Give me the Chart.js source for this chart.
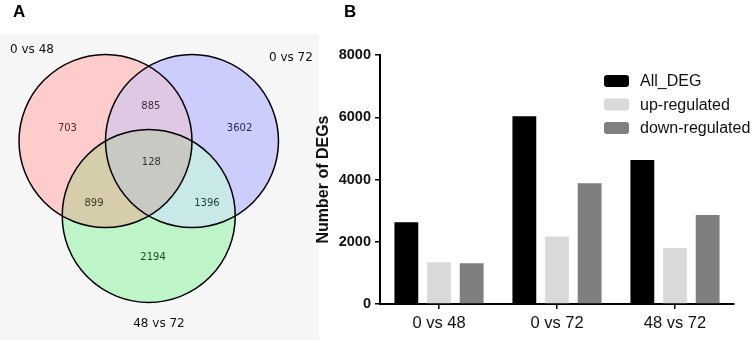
<!DOCTYPE html>
<html>
<head>
<meta charset="utf-8">
<script src="https://cdn.jsdelivr.net/npm/chart.js@4/dist/chart.umd.min.js"></script>
<style>
  html, body { margin: 0; padding: 0; background: #fff; }
  #wrap { position: relative; width: 754px; height: 343px; overflow: hidden; }
  #vennBg { position: absolute; left: 0; top: 34px; width: 319px; height: 306px; background: #f6f6f6; }
  canvas { position: absolute; top: 0; }
  #venn { left: 0; }
  #bars { left: 300px; }
  .panel { position: absolute; top: 2px; font: bold 17px "Liberation Sans", Arial, sans-serif; }
</style>
</head>
<body>
<div id="wrap">
  <div id="vennBg"></div>
  <canvas id="venn" width="320" height="343"></canvas>
  <canvas id="bars" width="454" height="343"></canvas>
  <div class="panel" style="left:13px">A</div>
  <div class="panel" style="left:344px">B</div>
</div>
<script>
// --- panel A: Venn counts ---
const setNames = ['0 vs 48', '0 vs 72', '48 vs 72'];
const regionKeys = ['A', 'B', 'C', 'AB', 'AC', 'BC', 'ABC'];
const regionCounts = [703, 3602, 2194, 885, 899, 1396, 128];

// --- panel B: DEG counts ---
const comparisons = ['0 vs 48', '0 vs 72', '48 vs 72'];
const seriesNames = ['All_DEG', 'up-regulated', 'down-regulated'];
const allDeg = [2630, 6030, 4630];
const upRegulated = [1340, 2170, 1800];
const downRegulated = [1310, 3880, 2860];
const yTicks = [0, 2000, 4000, 6000, 8000];

// classic 3-set layout in circle-radius units
const setCenters = [{ x: -0.5, y: 0 }, { x: 0.5, y: 0 }, { x: 0, y: -Math.sqrt(3) / 2 }];
const setFill = ['#ffcccc', '#cdcdfd', '#bdf5c9'];
const pairFill = { AB: '#dec8e4', AC: '#d6cdab', BC: '#c9e8e8' };
const tripleFill = '#c9c9c3';
const regionAnchor = {
  A: [-0.94, 0.14], B: [1.05, 0.145], C: [0.05, -1.345],
  AB: [0.025, 0.405], AC: [-0.633, -0.72], BC: [0.673, -0.72], ABC: [0.03, -0.25],
};
const regionColor = {
  A: '#5a2626', B: '#26265e', C: '#1f4a2a',
  AB: '#3c3040', AC: '#3b3a22', BC: '#23403f', ABC: '#333333',
};
const setLabelPos = [
  { x: -1.604, y: 1.052, align: 'left' },
  { x: 1.39, y: 0.96, align: 'left' },
  { x: 0.118, y: -2.116, align: 'center' },
];

function radiusPx(chart) {
  const s = chart.scales.x;
  return s.getPixelForValue(1) - s.getPixelForValue(0);
}

const vennOverlay = {
  id: 'vennOverlay',
  afterDatasetsDraw(chart) {
    const { ctx } = chart;
    const circ = [0, 1, 2].map(i => chart.getDatasetMeta(i).data[0]);
    const r = radiusPx(chart);
    const arc = (p) => { ctx.beginPath(); ctx.arc(p.x, p.y, r, 0, Math.PI * 2); };
    const pairs = { AB: [0, 1], AC: [0, 2], BC: [1, 2] };
    Object.entries(pairs).forEach(([k, [i, j]]) => {
      ctx.save();
      arc(circ[i]); ctx.clip();
      arc(circ[j]); ctx.fillStyle = pairFill[k]; ctx.fill();
      ctx.restore();
    });
    ctx.save();
    arc(circ[0]); ctx.clip();
    arc(circ[1]); ctx.clip();
    arc(circ[2]); ctx.fillStyle = tripleFill; ctx.fill();
    ctx.restore();

    ctx.save();
    ctx.lineWidth = 1.5;
    ctx.strokeStyle = '#000';
    circ.forEach(p => { arc(p); ctx.stroke(); });

    const sx = chart.scales.x, sy = chart.scales.y;
    ctx.textBaseline = 'middle';
    ctx.textAlign = 'center';
    ctx.font = '10px "DejaVu Sans"';
    regionKeys.forEach((k, i) => {
      const [ax, ay] = regionAnchor[k];
      ctx.fillStyle = regionColor[k];
      ctx.fillText(String(regionCounts[i]), sx.getPixelForValue(ax), sy.getPixelForValue(ay));
    });
    ctx.font = '12px "DejaVu Sans"';
    ctx.fillStyle = '#111';
    setNames.forEach((name, i) => {
      const p = setLabelPos[i];
      ctx.textAlign = p.align;
      ctx.fillText(name, sx.getPixelForValue(p.x), sy.getPixelForValue(p.y));
    });
    ctx.restore();
  },
};

new Chart(document.getElementById('venn'), {
  type: 'scatter',
  data: {
    datasets: setNames.map((name, i) => ({
      label: name,
      data: [setCenters[i]],
      pointRadius: (c) => radiusPx(c.chart),
      pointBackgroundColor: setFill[i],
      pointBorderWidth: 0,
      pointHoverRadius: (c) => radiusPx(c.chart),
    })),
  },
  options: {
    responsive: false,
    animation: false,
    events: [],
    layout: { padding: 0 },
    plugins: { legend: { display: false }, tooltip: { enabled: false } },
    scales: {
      x: { type: 'linear', display: false, min: -1.7197, max: 1.9798 },
      y: { type: 'linear', display: false, min: -2.335, max: 1.630 },
    },
  },
  plugins: [vennOverlay],
});

// --- panel B ---
const barColors = ['#000000', '#d9d9d9', '#7f7f7f'];

const boxLegend = {
  id: 'boxLegend',
  afterDraw(chart, args, opts) {
    const { ctx } = chart;
    ctx.save();
    ctx.font = '16px "Liberation Sans", Arial, sans-serif';
    ctx.textBaseline = 'middle';
    ctx.textAlign = 'left';
    chart.data.datasets.forEach((ds, i) => {
      const cy = opts.y + i * opts.rowGap;
      ctx.fillStyle = ds.backgroundColor;
      ctx.beginPath();
      ctx.roundRect(opts.x, cy - opts.boxH / 2, opts.boxW, opts.boxH, 3);
      ctx.fill();
      ctx.fillStyle = '#111';
      ctx.fillText(ds.label, opts.x + opts.boxW + 11, cy + 1);
    });
    ctx.restore();
  },
};

const axisFont = { family: '"Liberation Sans", Arial, sans-serif' };

new Chart(document.getElementById('bars'), {
  type: 'bar',
  data: {
    labels: comparisons,
    datasets: [allDeg, upRegulated, downRegulated].map((vals, i) => ({
      label: seriesNames[i],
      data: vals,
      backgroundColor: barColors[i],
      borderWidth: 0,
      categoryPercentage: 0.83,
      barPercentage: 0.73,
    })),
  },
  options: {
    responsive: false,
    animation: false,
    events: [],
    layout: { padding: { top: 55, right: 20, left: 0, bottom: 0 } },
    plugins: {
      legend: { display: false },
      tooltip: { enabled: false },
      boxLegend: { x: 304, y: 81, rowGap: 23.5, boxW: 25, boxH: 12 },
    },
    scales: {
      x: {
        afterFit: (s) => { s.height = 39; },
        grid: { display: true, drawOnChartArea: false, drawTicks: true, tickLength: 5, color: '#000', lineWidth: 1.5, offset: false },
        border: { display: true, color: '#000', width: 2 },
        ticks: { color: '#111', padding: 5, font: { ...axisFont, size: 16.5 } },
      },
      y: {
        min: 0,
        max: 8000,
        afterFit: (s) => { s.width = 80; },
        afterBuildTicks: (s) => { s.ticks = yTicks.map(v => ({ value: v })); },
        grid: { display: true, drawOnChartArea: false, drawTicks: true, tickLength: 5, color: '#000', lineWidth: 1.5 },
        border: { display: true, color: '#000', width: 2 },
        ticks: {
          color: '#111',
          padding: 4,
          font: { ...axisFont, size: 14.5, weight: 'bold' },
          callback: (v) => String(v),
        },
        title: {
          display: true,
          text: 'Number of DEGs',
          color: '#111',
          padding: { top: 14, bottom: 0 },
          font: { ...axisFont, size: 16, weight: 'bold' },
        },
      },
    },
  },
  plugins: [boxLegend],
});
</script>
</body>
</html>
